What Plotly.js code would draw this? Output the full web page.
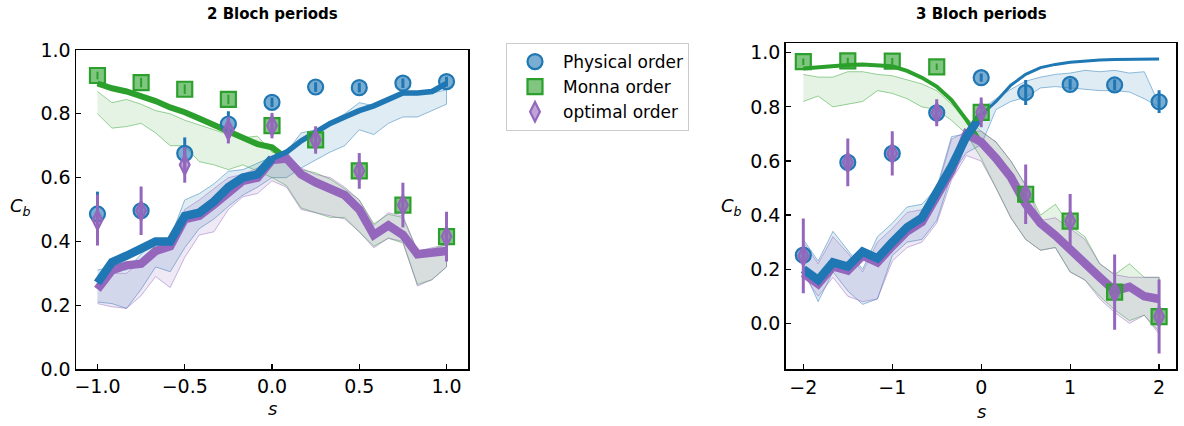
<!DOCTYPE html>
<html>
<head>
<meta charset="utf-8">
<script src="https://cdn.plot.ly/plotly-3.0.1.min.js"></script>
<style>html,body{margin:0;padding:0;background:#fff;}#chart{width:1184px;height:426px;}</style>
</head>
<body>
<div id="chart"></div>
<script>
// ---------- data: left panel (2 Bloch periods) ----------
const sLine2 = [-1, -0.9167, -0.8333, -0.75, -0.6667, -0.5833, -0.5, -0.4167, -0.3333, -0.25, -0.1667, -0.0833, 0,
                0.0833, 0.1667, 0.25, 0.3333, 0.4167, 0.5, 0.5833, 0.6667, 0.75, 0.8333, 0.9167, 1];
const physLine2 = [0.27, 0.335, 0.355, 0.375, 0.40, 0.40, 0.48, 0.49, 0.525, 0.57, 0.60, 0.61, 0.66,
                   0.68, 0.715, 0.745, 0.77, 0.79, 0.81, 0.825, 0.845, 0.865, 0.865, 0.87, 0.895];
const physLo2 = [0.21, 0.205, 0.19, 0.25, 0.32, 0.305, 0.38, 0.44, 0.47, 0.51, 0.545, 0.57, 0.60,
                 0.60, 0.63, 0.655, 0.68, 0.70, 0.75, 0.735, 0.77, 0.79, 0.79, 0.81, 0.83];
const physHi2 = [0.31, 0.32, 0.31, 0.36, 0.40, 0.41, 0.53, 0.55, 0.58, 0.62, 0.625, 0.645, 0.665,
                 0.68, 0.74, 0.75, 0.775, 0.80, 0.835, 0.825, 0.845, 0.86, 0.86, 0.865, 0.875];
const monnaLine2 = [0.895, 0.88, 0.87, 0.855, 0.84, 0.82, 0.805, 0.785, 0.765, 0.745, 0.725, 0.705, 0.695,
                    0.66, 0.61, 0.585, 0.565, 0.545, 0.50, 0.42, 0.45, 0.42, 0.36, 0.365, 0.37];
const monnaLo2 = [0.80, 0.755, 0.76, 0.77, 0.74, 0.70, 0.70, 0.65, 0.64, 0.625, 0.64, 0.62, 0.60,
                  0.575, 0.505, 0.49, 0.475, 0.475, 0.43, 0.385, 0.41, 0.395, 0.265, 0.28, 0.32];
const monnaHi2 = [0.87, 0.835, 0.845, 0.83, 0.81, 0.80, 0.78, 0.765, 0.75, 0.735, 0.725, 0.73, 0.68,
                  0.665, 0.625, 0.615, 0.595, 0.565, 0.53, 0.455, 0.485, 0.475, 0.37, 0.375, 0.39];
const optLine2 = [0.25, 0.31, 0.325, 0.33, 0.37, 0.385, 0.47, 0.48, 0.515, 0.555, 0.59, 0.60, 0.655,
                  0.66, 0.61, 0.585, 0.565, 0.545, 0.50, 0.42, 0.45, 0.42, 0.36, 0.365, 0.37];
const optLo2 = [0.205, 0.195, 0.19, 0.23, 0.29, 0.255, 0.35, 0.42, 0.43, 0.50, 0.54, 0.55, 0.59,
                0.57, 0.50, 0.49, 0.48, 0.47, 0.43, 0.38, 0.41, 0.40, 0.26, 0.28, 0.32];
const optHi2 = [0.29, 0.30, 0.30, 0.34, 0.38, 0.39, 0.50, 0.53, 0.565, 0.60, 0.61, 0.63, 0.65,
                0.67, 0.63, 0.61, 0.60, 0.57, 0.53, 0.45, 0.49, 0.48, 0.37, 0.38, 0.39];

const sPts2 = [-1, -0.75, -0.5, -0.25, 0, 0.25, 0.5, 0.75, 1];
const physPts2 = [0.486, 0.496, 0.676, 0.768, 0.836, 0.884, 0.882, 0.896, 0.901];
const physErr2 = [0.07, 0.02, 0.05, 0.04, 0.015, 0.015, 0.015, 0.015, 0.015];
const monnaPts2 = [0.920, 0.898, 0.877, 0.845, 0.763, 0.718, 0.621, 0.514, 0.415];
const monnaErr2 = [0.012, 0.015, 0.015, 0.015, 0.012, 0.012, 0.012, 0.012, 0.012];
const optPts2 = [0.467, 0.496, 0.640, 0.749, 0.763, 0.718, 0.621, 0.514, 0.415];
const optErr2 = [0.08, 0.076, 0.056, 0.042, 0.04, 0.043, 0.056, 0.07, 0.078];

// ---------- data: right panel (3 Bloch periods) ----------
const sLine3 = [-2, -1.8333, -1.6667, -1.5, -1.3333, -1.1667, -1, -0.8333, -0.6667, -0.5, -0.3333, -0.1667, 0,
                0.1667, 0.3333, 0.5, 0.6667, 0.8333, 1, 1.1667, 1.3333, 1.5, 1.6667, 1.8333, 2];
const physLine3 = [0.20, 0.16, 0.225, 0.21, 0.265, 0.24, 0.30, 0.355, 0.39, 0.48, 0.58, 0.69, 0.77,
                   0.82, 0.88, 0.92, 0.945, 0.957, 0.965, 0.97, 0.973, 0.975, 0.976, 0.977, 0.977];
const physLo3 = [0.20, 0.08, 0.19, 0.12, 0.07, 0.09, 0.25, 0.30, 0.31, 0.38, 0.55, 0.63, 0.66,
                 0.79, 0.82, 0.835, 0.87, 0.875, 0.87, 0.865, 0.86, 0.86, 0.855, 0.83, 0.80];
const physHi3 = [0.31, 0.23, 0.34, 0.27, 0.20, 0.32, 0.37, 0.43, 0.44, 0.50, 0.69, 0.70, 0.79,
                 0.83, 0.865, 0.895, 0.91, 0.92, 0.925, 0.935, 0.93, 0.935, 0.925, 0.93, 0.81];
const monnaLine3 = [0.942, 0.947, 0.951, 0.955, 0.957, 0.955, 0.95, 0.933, 0.908, 0.875, 0.825, 0.752, 0.67,
                    0.61, 0.54, 0.44, 0.37, 0.325, 0.27, 0.22, 0.17, 0.12, 0.135, 0.10, 0.09];
const monnaLo3 = [0.82, 0.84, 0.80, 0.81, 0.82, 0.86, 0.85, 0.83, 0.80, 0.79, 0.75, 0.70, 0.61,
                  0.50, 0.39, 0.31, 0.27, 0.28, 0.19, 0.16, 0.10, 0.05, 0.01, 0.03, -0.03];
const monnaHi3 = [0.92, 0.91, 0.91, 0.93, 0.93, 0.92, 0.915, 0.90, 0.885, 0.86, 0.81, 0.76, 0.71,
                  0.67, 0.60, 0.51, 0.40, 0.44, 0.36, 0.32, 0.22, 0.18, 0.22, 0.17, 0.17];
const optLine3 = [0.185, 0.145, 0.21, 0.195, 0.25, 0.225, 0.285, 0.34, 0.375, 0.465, 0.565, 0.70, 0.67,
                  0.61, 0.54, 0.44, 0.37, 0.325, 0.27, 0.22, 0.17, 0.12, 0.135, 0.10, 0.09];
const optLo3 = [0.18, 0.10, 0.17, 0.10, 0.08, 0.09, 0.23, 0.28, 0.30, 0.37, 0.53, 0.62, 0.60,
                0.50, 0.39, 0.31, 0.27, 0.28, 0.19, 0.16, 0.09, 0.04, 0.00, 0.03, -0.04];
const optHi3 = [0.30, 0.22, 0.32, 0.26, 0.19, 0.30, 0.35, 0.41, 0.42, 0.49, 0.68, 0.71, 0.71,
                0.67, 0.60, 0.51, 0.38, 0.39, 0.35, 0.31, 0.22, 0.18, 0.17, 0.17, 0.17];

const sPts3 = [-2, -1.5, -1, -0.5, 0, 0.5, 1, 1.5, 2];
const physPts3 = [0.252, 0.595, 0.628, 0.778, 0.908, 0.853, 0.883, 0.881, 0.819];
const physErr3 = [0.02, 0.02, 0.02, 0.02, 0.015, 0.046, 0.02, 0.02, 0.042];
const monnaPts3 = [0.967, 0.970, 0.969, 0.948, 0.780, 0.477, 0.378, 0.115, 0.025];
const monnaErr3 = [0.012, 0.012, 0.012, 0.012, 0.012, 0.012, 0.012, 0.012, 0.012];
const optPts3 = [0.249, 0.595, 0.628, 0.778, 0.780, 0.477, 0.378, 0.115, 0.025];
const optErr3 = [0.138, 0.088, 0.082, 0.05, 0.055, 0.11, 0.10, 0.139, 0.137];

const seriesNames = ['Physical order', 'Monna order', 'optimal order'];

// ---------- styles ----------
const BLUE = '#1f77b4', GREEN = '#2ca02c', PURPLE = '#9467bd';
const FILL = {blue: 'rgba(31,119,180,0.14)', green: 'rgba(44,160,44,0.13)', purple: 'rgba(148,103,189,0.15)'};
const EDGE = {blue: 'rgba(31,119,180,0.6)', green: 'rgba(44,160,44,0.6)', purple: 'rgba(148,103,189,0.6)'};
const FACE = {blue: 'rgba(31,119,180,0.6)', green: 'rgba(44,160,44,0.6)', purple: 'rgba(148,103,189,0.6)'};
const FONT = 'DejaVu Sans, sans-serif';

function band(xs, lo, hi, key, xa, ya) {
  return {x: xs.concat(xs.slice().reverse()), y: hi.concat(lo.slice().reverse()),
    type: 'scatter', mode: 'lines', fill: 'toself', fillcolor: FILL[key],
    line: {color: EDGE[key], width: 0.8}, xaxis: xa, yaxis: ya, showlegend: false, hoverinfo: 'skip'};
}
function line(xs, ys, i0, i1, color, w, xa, ya) {
  return {x: xs.slice(i0, i1), y: ys.slice(i0, i1), type: 'scatter', mode: 'lines',
    line: {color: color, width: w}, xaxis: xa, yaxis: ya, showlegend: false, hoverinfo: 'skip'};
}
function pts(xs, ys, err, name, key, color, symbol, size, errW, xa, ya, legend) {
  return {x: xs, y: ys, name: name, type: 'scatter', mode: 'markers',
    error_y: {type: 'data', array: err, visible: true, color: color, thickness: errW, width: 0},
    marker: {symbol: symbol, size: size, color: FACE[key], line: {color: color, width: 2.2}},
    xaxis: xa, yaxis: ya, showlegend: legend, legendgroup: 'all'};
}

const n2 = sLine2.length, n3 = sLine3.length, mid2 = 13, mid3 = 13;
const traces = [
  band(sLine2, physLo2, physHi2, 'blue', 'x', 'y'),
  band(sLine2, monnaLo2, monnaHi2, 'green', 'x', 'y'),
  band(sLine2, optLo2, optHi2, 'purple', 'x', 'y'),
  line(sLine2, monnaLine2, 0, n2, GREEN, 6, 'x', 'y'),
  line(sLine2, optLine2, 0, n2, PURPLE, 8.5, 'x', 'y'),
  line(sLine2, physLine2, 0, mid2, BLUE, 8.5, 'x', 'y'),
  line(sLine2, physLine2, mid2 - 1, n2, BLUE, 5.5, 'x', 'y'),
  pts(sPts2, physPts2, physErr2, seriesNames[0], 'blue', BLUE, 'circle', 15, 3, 'x', 'y', true),
  pts(sPts2, monnaPts2, monnaErr2, seriesNames[1], 'green', GREEN, 'square', 15, 2, 'x', 'y', true),
  pts(sPts2, optPts2, optErr2, seriesNames[2], 'purple', PURPLE, 'diamond-tall', 14, 3, 'x', 'y', true),

  band(sLine3, physLo3, physHi3, 'blue', 'x2', 'y2'),
  band(sLine3, monnaLo3, monnaHi3, 'green', 'x2', 'y2'),
  band(sLine3, optLo3, optHi3, 'purple', 'x2', 'y2'),
  line(sLine3, monnaLine3, 0, n3, GREEN, 4, 'x2', 'y2'),
  line(sLine3, optLine3, 0, n3, PURPLE, 8.5, 'x2', 'y2'),
  line(sLine3, physLine3, 0, mid3, BLUE, 8.5, 'x2', 'y2'),
  line(sLine3, physLine3, mid3 - 1, n3, BLUE, 3, 'x2', 'y2'),
  pts(sPts3, physPts3, physErr3, seriesNames[0], 'blue', BLUE, 'circle', 15, 3, 'x2', 'y2', false),
  pts(sPts3, monnaPts3, monnaErr3, seriesNames[1], 'green', GREEN, 'square', 15, 2, 'x2', 'y2', false),
  pts(sPts3, optPts3, optErr3, seriesNames[2], 'purple', PURPLE, 'diamond-tall', 14, 3, 'x2', 'y2', false)
];

const W = 1184, H = 426;
const axBase = {showline: true, mirror: true, linecolor: '#000', linewidth: 1.5, ticks: 'inside',
  ticklen: 5, tickwidth: 1.2, tickcolor: '#000', showgrid: false, zeroline: false,
  tickfont: {family: FONT, size: 19, color: '#000'}, fixedrange: true};

const layout = {
  width: W, height: H, margin: {l: 0, r: 0, t: 0, b: 0},
  paper_bgcolor: '#fff', plot_bgcolor: '#fff',
  font: {family: FONT, color: '#000'},
  xaxis: Object.assign({}, axBase, {domain: [76 / W, 468 / W], range: [-1.123, 1.123],
    tickvals: [-1, -0.5, 0, 0.5, 1], tickformat: '.1f', anchor: 'y'}),
  yaxis: Object.assign({}, axBase, {domain: [1 - 369 / H, 1 - 50 / H], range: [0, 1],
    tickvals: [0, 0.2, 0.4, 0.6, 0.8, 1.0], tickformat: '.1f', anchor: 'x'}),
  xaxis2: Object.assign({}, axBase, {domain: [785.7 / W, 1176 / W], range: [-2.198, 2.19],
    tickvals: [-2, -1, 0, 1, 2], tickformat: 'd', anchor: 'y2'}),
  yaxis2: Object.assign({}, axBase, {domain: [1 - 369.3 / H, 1 - 43.3 / H], range: [-0.17, 1.035],
    tickvals: [0, 0.2, 0.4, 0.6, 0.8, 1.0], tickformat: '.1f', anchor: 'x2'}),
  showlegend: true,
  legend: {x: 506 / W, y: 1 - 43 / H, xanchor: 'left', yanchor: 'top', bgcolor: 'rgba(255,255,255,0.8)',
    bordercolor: '#cccccc', borderwidth: 1, font: {family: FONT, size: 17, color: '#000'},
    itemwidth: 46, traceorder: 'normal', tracegroupgap: 0, itemsizing: 'trace'},
  annotations: [
    {text: '<b>2 Bloch periods</b>', x: 272 / W, y: 1 - 14 / H, xref: 'paper', yref: 'paper',
     showarrow: false, xanchor: 'center', yanchor: 'middle', font: {family: FONT, size: 15}},
    {text: '<b>3 Bloch periods</b>', x: 981 / W, y: 1 - 14 / H, xref: 'paper', yref: 'paper',
     showarrow: false, xanchor: 'center', yanchor: 'middle', font: {family: FONT, size: 15}},
    {text: '<i>C</i><sub><i>b</i></sub>', x: 20 / W, y: 1 - 207 / H, xref: 'paper', yref: 'paper',
     showarrow: false, xanchor: 'center', yanchor: 'middle', font: {family: FONT, size: 18}},
    {text: '<i>C</i><sub><i>b</i></sub>', x: 731 / W, y: 1 - 207 / H, xref: 'paper', yref: 'paper',
     showarrow: false, xanchor: 'center', yanchor: 'middle', font: {family: FONT, size: 18}},
    {text: '<i>s</i>', x: 272 / W, y: 1 - 408 / H, xref: 'paper', yref: 'paper',
     showarrow: false, xanchor: 'center', yanchor: 'middle', font: {family: FONT, size: 18}},
    {text: '<i>s</i>', x: 981 / W, y: 1 - 411 / H, xref: 'paper', yref: 'paper',
     showarrow: false, xanchor: 'center', yanchor: 'middle', font: {family: FONT, size: 18}}
  ]
};

Plotly.newPlot('chart', traces, layout, {displayModeBar: false, staticPlot: true});
</script>
</body>
</html>
